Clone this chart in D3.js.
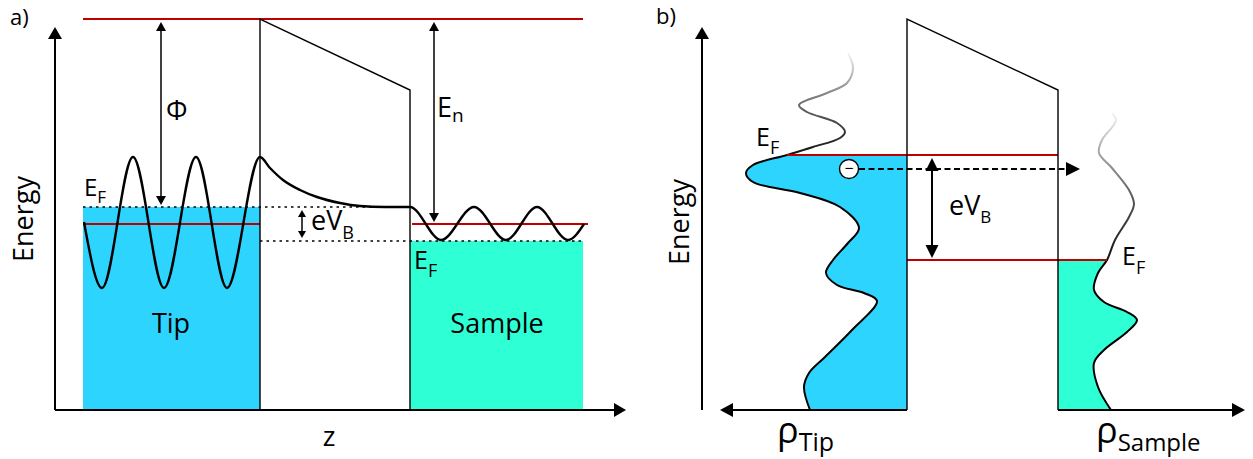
<!DOCTYPE html>
<html>
<head>
<meta charset="utf-8">
<script src="https://cdn.jsdelivr.net/npm/d3@7"></script>
<style>
  html, body { margin: 0; padding: 0; background: #fff; }
  svg { display: block; font-family: "Open Sans", "DejaVu Sans", sans-serif; }
</style>
</head>
<body>
<svg id="chart" width="1253" height="459"></svg>
<script>
// ---------- Panel a: tunnel junction along z ----------
// z is measured from the energy axis, energy is measured up from the z axis (drawing units).
const levelVacuum = 391;
const levelTipFermi = 203;
const levelTipState = 186;
const levelSampleFermi = 169;
const barrierWallZ = [205, 355];        // tip-side and sample-side walls
const barrierTopE = [391, 320];         // barrier height at each wall
const tipSpan = [28, 205];
const sampleSpan = [355, 528];
const sampleStateSpan = [357, 533];
const phiArrowZ = 106;
const enArrowZ = 379;
const biasArrowZ = 247;
// wave function: oscillating in the tip, decaying in the gap, oscillating in the sample
const waveTip = [[29,188],[47,122],[78,253],[109,122],[141,253],[172,122],[205,253]];
const waveGap = [[215,242],[228,230],[245,220],[262,213],[285,207],[305,204],[330,203],[355,203]];
const waveSample = [[386,170],[419,203],[451,170],[482,203],[513,170],[529,186]];

// ---------- Panel b: densities of states ----------
// rho measured away from the barrier wall, energy as in panel a
const tipDOS = [[97,0],[103,23],[98,37],[82,53],[55,80],[30,109],[43,117],[70,125],[81,137],[74,150],
  [59,167],[48,182],[67,203],[107,217],[154,228],[161,237],[154,245],[120,255],[94,263],[67,272],
  [62,278],[70,287],[100,298],[108,305],[80,317],[60,327],[54,342],[59,357]];
const sampleDOS = [[53,0],[40,23],[36,47],[46,60],[69,78],[79,90],[69,98],[46,108],[36,120],[40,137],
  [49,150],[57,170],[71,193],[76,206],[71,220],[54,242],[41,257],[44,270],[55,284],[58,290],[54,297]];
const tipFermiB = 255;
const sampleFermiB = 150;
const barrierTopB = [391, 320];
const electronE = 241;
const electronRho = 58;
const tunnelEndRho = 22;
const biasArrowRho = -25;

const RED = "#c00000";
const CYAN = "#2dd4fe";
const TURQ = "#2effd4";

const svg = d3.select("#chart");

const yE = d3.scaleLinear().domain([0, 391]).range([410, 19]);
const xA = d3.scaleLinear().domain([0, 570]).range([55, 625]);
const rhoTip = d3.scaleLinear().domain([0, 187]).range([907, 720]);
const rhoSample = d3.scaleLinear().domain([0, 187]).range([1058, 1245]);

// filled triangular arrow head with its point at (x, y)
function head(g, x, y, dir, len, half) {
  let pts;
  if (dir === "up") pts = [[x, y], [x - half, y + len], [x + half, y + len]];
  if (dir === "down") pts = [[x, y], [x - half, y - len], [x + half, y - len]];
  if (dir === "left") pts = [[x, y], [x + len, y - half], [x + len, y + half]];
  if (dir === "right") pts = [[x, y], [x - len, y - half], [x - len, y + half]];
  g.append("path").attr("d", "M" + pts.map(p => p.join(",")).join("L") + "Z").attr("fill", "#000");
}
function line(g, x1, y1, x2, y2, stroke, width, dash) {
  const l = g.append("line").attr("x1", x1).attr("y1", y1).attr("x2", x2).attr("y2", y2)
    .attr("stroke", stroke).attr("stroke-width", width);
  if (dash) l.attr("stroke-dasharray", dash);
  return l;
}
function label(g, x, y, main, size, sub, subSize, subDy) {
  const t = g.append("text").attr("x", x).attr("y", y).attr("font-size", size).attr("fill", "#000").text(main);
  if (sub) t.append("tspan").attr("font-size", subSize).attr("dy", subDy).text(sub);
  return t;
}

// ================= Panel a =================
const a = svg.append("g");

// band fillings
a.append("rect").attr("x", xA(tipSpan[0])).attr("y", yE(levelTipFermi))
  .attr("width", xA(tipSpan[1]) - xA(tipSpan[0])).attr("height", yE(0) - yE(levelTipFermi)).attr("fill", CYAN);
a.append("rect").attr("x", xA(sampleSpan[0])).attr("y", yE(levelSampleFermi))
  .attr("width", xA(sampleSpan[1]) - xA(sampleSpan[0])).attr("height", yE(0) - yE(levelSampleFermi)).attr("fill", TURQ);

// Fermi levels (dotted)
line(a, xA(tipSpan[0]), yE(levelTipFermi), xA(sampleSpan[0]), yE(levelTipFermi), "#000", 1.5, "2.5,4");
line(a, xA(tipSpan[1]), yE(levelSampleFermi), xA(sampleSpan[1]), yE(levelSampleFermi), "#000", 1.5, "2.5,4");

// vacuum level and state energies
line(a, xA(tipSpan[0]), yE(levelVacuum), xA(sampleSpan[1]), yE(levelVacuum), RED, 2.2);
line(a, xA(tipSpan[0]), yE(levelTipState), xA(tipSpan[1]), yE(levelTipState), RED, 2.2);
line(a, xA(sampleStateSpan[0]), yE(levelTipState), xA(sampleStateSpan[1]), yE(levelTipState), RED, 2.2);

// barrier
a.append("path")
  .attr("d", d3.line()([[xA(barrierWallZ[0]), yE(0)], [xA(barrierWallZ[0]), yE(barrierTopE[0])],
    [xA(barrierWallZ[1]), yE(barrierTopE[1])], [xA(barrierWallZ[1]), yE(0)]]))
  .attr("fill", "none").attr("stroke", "#000").attr("stroke-width", 1.4);

// wave function
const waveLine = d3.line().curve(d3.curveMonotoneX).x(d => xA(d[0])).y(d => yE(d[1]));
a.append("path").attr("d", waveLine(waveTip.concat(waveGap, waveSample)))
  .attr("fill", "none").attr("stroke", "#000").attr("stroke-width", 2.4);

// axes
line(a, xA(0), yE(0), xA(0), 38, "#000", 2);
head(a, xA(0), 27, "up", 12, 7);
line(a, xA(0), yE(0), 614, yE(0), "#000", 2);
head(a, 626, yE(0), "right", 12, 7);

// work function, state energy, bias
function doubleArrow(g, x, yTop, yBot, len, half, width) {
  line(g, x, yTop + len - 1, x, yBot - len + 1, "#000", width);
  head(g, x, yTop, "up", len, half);
  head(g, x, yBot, "down", len, half);
}
doubleArrow(a, xA(phiArrowZ), yE(levelVacuum) + 3, yE(levelTipFermi) - 2, 9, 5, 1.5);
doubleArrow(a, xA(enArrowZ), yE(levelVacuum) + 3, yE(levelTipState) - 2, 9, 5, 1.5);
doubleArrow(a, xA(biasArrowZ), yE(levelTipFermi) + 3, yE(levelSampleFermi) - 3, 7, 4, 1.5);

// labels
label(a, 10, 25, "a)", 22);
a.append("text").attr("transform", "translate(33,219) rotate(-90)").attr("text-anchor", "middle")
  .attr("font-size", 27).text("Energy");
a.append("text").attr("x", 329).attr("y", 446).attr("text-anchor", "middle").attr("font-size", 27).text("z");
a.append("text").attr("x", 171).attr("y", 333).attr("text-anchor", "middle").attr("font-size", 27).text("Tip");
a.append("text").attr("x", 497).attr("y", 333).attr("text-anchor", "middle").attr("font-size", 27).text("Sample");
label(a, 166, 120, "Φ", 27);
label(a, 437, 117, "E", 27, "n", 19, 5);
label(a, 311, 230, "eV", 27, "B", 18, 9);
label(a, 84, 196, "E", 24, "F", 17, 7);
label(a, 414, 269, "E", 25, "F", 18, 8);

// ================= Panel b =================
const b = svg.append("g");
const defs = svg.append("defs");

function clip(id, y0, y1) {
  defs.append("clipPath").attr("id", id).append("rect")
    .attr("x", 0).attr("y", y0).attr("width", 1253).attr("height", y1 - y0);
}
clip("tipBelow", yE(tipFermiB), 459);
clip("tipAbove", 0, yE(tipFermiB));
clip("sampleBelow", yE(sampleFermiB), 459);
clip("sampleAbove", 0, yE(sampleFermiB));

function fade(id, yStart, yEnd) {
  const gr = defs.append("linearGradient").attr("id", id).attr("gradientUnits", "userSpaceOnUse")
    .attr("x1", 0).attr("x2", 0).attr("y1", yStart).attr("y2", yEnd);
  gr.append("stop").attr("offset", 0).attr("stop-color", "#111");
  gr.append("stop").attr("offset", 0.4).attr("stop-color", "#555");
  gr.append("stop").attr("offset", 0.75).attr("stop-color", "#aaa");
  gr.append("stop").attr("offset", 1).attr("stop-color", "#f6f6f6");
}
const tipSorted = d3.sort(tipDOS, d => -d[1]);
const sampleSorted = d3.sort(sampleDOS, d => -d[1]);
fade("tipFade", yE(tipFermiB), yE(d3.max(tipDOS, d => d[1])));
fade("sampleFade", yE(sampleFermiB), yE(d3.max(sampleDOS, d => d[1])));

const dosCurve = d3.curveCatmullRom.alpha(0.5);
function dos(scale, data, fill, below, above, fadeId) {
  const area = d3.area().curve(dosCurve).y(d => yE(d[1])).x0(scale(0)).x1(d => scale(d[0]));
  const ln = d3.line().curve(dosCurve).x(d => scale(d[0])).y(d => yE(d[1]));
  b.append("path").attr("d", area(data)).attr("fill", fill).attr("clip-path", `url(#${below})`);
  b.append("path").attr("d", ln(data)).attr("fill", "none").attr("stroke", "#000")
    .attr("stroke-width", 2).attr("clip-path", `url(#${below})`);
  b.append("path").attr("d", ln(data)).attr("fill", "none").attr("stroke", `url(#${fadeId})`)
    .attr("stroke-width", 2).attr("clip-path", `url(#${above})`);
}
dos(rhoTip, tipSorted, CYAN, "tipBelow", "tipAbove", "tipFade");
dos(rhoSample, sampleSorted, TURQ, "sampleBelow", "sampleAbove", "sampleFade");

// Fermi levels
const tipFermiRho = tipDOS.find(d => d[1] === tipFermiB)[0];
const sampleFermiRho = sampleDOS.find(d => d[1] === sampleFermiB)[0];
line(b, rhoTip(tipFermiRho), yE(tipFermiB), rhoSample(0), yE(tipFermiB), RED, 2.2);
line(b, rhoTip(0), yE(sampleFermiB), rhoSample(sampleFermiRho), yE(sampleFermiB), RED, 2.2);

// barrier
b.append("path")
  .attr("d", d3.line()([[rhoTip(0), yE(0)], [rhoTip(0), yE(barrierTopB[0])],
    [rhoSample(0), yE(barrierTopB[1])], [rhoSample(0), yE(0)]]))
  .attr("fill", "none").attr("stroke", "#000").attr("stroke-width", 1.4);

// axes
line(b, 702, yE(0), 702, 38, "#000", 2);
head(b, 702, 27, "up", 12, 7);
line(b, rhoTip(0), yE(0), rhoTip(187) + 12, yE(0), "#000", 2);
head(b, rhoTip(187), yE(0), "left", 13, 7);
line(b, rhoSample(0), yE(0), rhoSample(187) - 12, yE(0), "#000", 2);
head(b, rhoSample(187), yE(0), "right", 13, 7);

// tunnelling electron
const ex = rhoTip(electronRho), ey = yE(electronE);
line(b, ex + 10, ey, rhoSample(tunnelEndRho) - 12, ey, "#000", 2, "6,3.5");
head(b, rhoSample(tunnelEndRho), ey, "right", 14, 7);
b.append("circle").attr("cx", ex).attr("cy", ey).attr("r", 9.5)
  .attr("fill", "#fff").attr("stroke", "#000").attr("stroke-width", 1.4);
b.append("text").attr("x", ex).attr("y", ey + 5).attr("text-anchor", "middle")
  .attr("font-size", 16).text("−");

// bias arrow
doubleArrow(b, rhoTip(biasArrowRho), yE(tipFermiB) + 3, yE(sampleFermiB) - 2, 13, 6.5, 2);

// labels
label(b, 656, 24, "b)", 22);
b.append("text").attr("transform", "translate(689,222) rotate(-90)").attr("text-anchor", "middle")
  .attr("font-size", 27).text("Energy");
label(b, 756, 146, "E", 25, "F", 18, 8);
label(b, 949, 215, "eV", 27, "B", 17, 8);
label(b, 1122, 265, "E", 25, "F", 18, 9);
label(b, 777, 443, "ρ", 36, "Tip", 25, 8);
label(b, 1096, 443, "ρ", 36, "Sample", 24, 8);
</script>
</body>
</html>
